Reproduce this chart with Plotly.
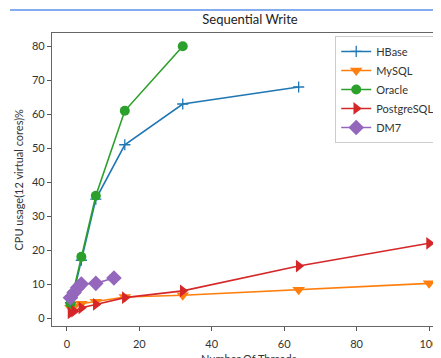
import plotly.graph_objects as go

hbase_x = [1, 2, 4, 8, 16, 32, 64]
hbase_y = [4.5, 8, 17, 35, 51, 63, 68]

mysql_x = [1, 2, 4, 8, 16, 32, 64, 100]
mysql_y = [3, 3.5, 4.2, 4.8, 6.2, 6.7, 8.3, 10.2]

oracle_x = [1, 4, 8, 16, 32]
oracle_y = [4.2, 18, 36, 61, 80]

pg_x = [1, 2, 4, 8, 16, 32, 64, 100]
pg_y = [1.5, 2, 3, 4, 6, 8, 15.3, 22]

dm7_x = [1, 2, 3, 4, 8, 13]
dm7_y = [6, 7.5, 9, 10, 10.2, 11.8]

x_ticks = [0, 20, 40, 60, 80, 100]
y_ticks = [0, 10, 20, 30, 40, 50, 60, 70, 80]

FONT = "Lato"

# page body has an 8px margin: the figure is sized and placed to compensate
W, H = 441, 350
L, R, T, B = 44, 8, 25, 32
PW, PH = W - L - R, H - T - B

fig = go.Figure()

def add(name, x, y, color, symbol, size, lw=1.6, mlw=0):
    fig.add_trace(go.Scatter(
        x=x, y=y, name=name, mode="lines+markers",
        line=dict(color=color, width=lw),
        marker=dict(symbol=symbol, size=size, color=color,
                    line=dict(color=color, width=mlw)),
    ))

add("HBase", hbase_x, hbase_y, "#1f77b4", "cross-thin", 8, mlw=1.3)
add("MySQL", mysql_x, mysql_y, "#ff7f0e", "triangle-down", 11)
add("Oracle", oracle_x, oracle_y, "#2ca02c", "circle", 10)
add("PostgreSQL", pg_x, pg_y, "#d62728", "triangle-right", 11)
add("DM7", dm7_x, dm7_y, "#9467bd", "diamond", 12)

fig.update_layout(
    width=W, height=H,
    margin=dict(l=L, r=R, t=T, b=B, autoexpand=False),
    paper_bgcolor="white", plot_bgcolor="white",
    font=dict(family=FONT, size=11, color="#333"),
    showlegend=True,
    title=dict(text="Sequential Write", x=242 / W, xanchor="center",
               y=1 - 11 / H, yanchor="middle",
               font=dict(family=FONT, size=13, color="#222")),
    legend=dict(x=0.998, y=0.99, xanchor="right", yanchor="top",
                bgcolor="white", bordercolor="#cccccc", borderwidth=1,
                font=dict(family=FONT, size=11, color="#333"),
                itemwidth=30, tracegroupgap=0),
    xaxis=dict(range=[-4.1, 103.3], tickvals=x_ticks, ticks="outside",
               ticklen=4, tickcolor="#555", showgrid=False, zeroline=False,
               showline=True, linecolor="#666", linewidth=1.2, mirror=True,
               automargin=False, ticklabeloverflow="allow",
               ticklabelstandoff=4,
               tickfont=dict(family=FONT, size=11, color="#333")),
    yaxis=dict(range=[-2.35, 83.9], tickvals=y_ticks, ticks="outside",
               ticklen=4, tickcolor="#555", showgrid=False, zeroline=False,
               showline=True, linecolor="#666", linewidth=1.2, mirror=False,
               automargin=False,
               tickfont=dict(family=FONT, size=11, color="#333")),
    annotations=[
        dict(text="Number Of Threads", xref="paper", yref="paper",
             x=0.507, y=-32 / PH, xanchor="center", yanchor="middle",
             showarrow=False, font=dict(family=FONT, size=11, color="#333")),
        dict(text="CPU usage(12 virtual cores)%", xref="paper", yref="paper",
             x=-(L - 10) / PW, y=0.5, xanchor="center", yanchor="middle",
             textangle=-90, showarrow=False,
             font=dict(family=FONT, size=11, color="#333")),
    ],
    shapes=[
        dict(type="line", xref="paper", yref="paper",
             x0=-(L - 2) / PW, x1=1, y0=1 + (T - 2) / PH, y1=1 + (T - 2) / PH,
             line=dict(color="#5b8fe8", width=1.5)),
    ],
)

fig.write_html("out.html")
